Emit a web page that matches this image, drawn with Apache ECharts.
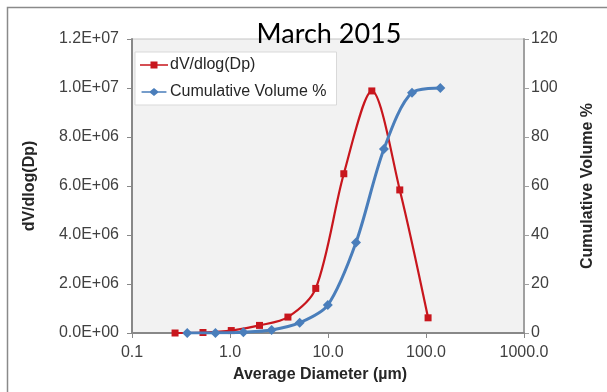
<!DOCTYPE html>
<html>
<head>
<meta charset="utf-8">
<script src="https://cdn.jsdelivr.net/npm/echarts@6/dist/echarts.min.js"></script>
<style>
  html, body { margin: 0; padding: 0; background: #ffffff; }
  #chart { width: 607px; height: 392px; }
</style>
</head>
<body>
<div id="chart"></div>
<script>
// Particle size distribution, March 2015
const diamDV = [0.275, 0.53, 1.03, 2.0, 3.9, 7.5, 14.5, 28, 54, 105];
const valuesDV = [0, 0.02e6, 0.1e6, 0.31e6, 0.65e6, 1.82e6, 6.5e6, 9.88e6, 5.84e6, 0.62e6];

const diamCum = [0.366, 0.71, 1.37, 2.66, 5.14, 9.96, 19.3, 37.2, 72, 140];
const valuesCum = [0, 0.05, 0.3, 1.2, 4.2, 11.4, 36.9, 75.1, 98.1, 100];

const xRange = [0.1, 1000];
const leftRange = [0, 1.2e7, 2e6];
const rightRange = [0, 120, 20];

const seriesNames = ['dV/dlog(Dp)', 'Cumulative Volume %'];
const titleText = 'March 2015';

const RED = '#c8161d';
const BLUE = '#4a7ebb';
const FONT = '"Liberation Sans", Arial, sans-serif';

function sci(v) {
  if (v === 0) return '0.0E+00';
  const e = Math.floor(Math.log10(v) + 1e-9);
  const m = v / Math.pow(10, e);
  return m.toFixed(1) + 'E+' + String(e).padStart(2, '0');
}

const pairsDV = diamDV.map((d, i) => [d, valuesDV[i]]);
const pairsCum = diamCum.map((d, i) => [d, valuesCum[i]]);

// legend icons: short line with the series marker in the middle
const iconSquare = 'path://M0,3.2 H10.5 V0.5 H17.5 V3.2 H28 V4.8 H17.5 V7.5 H10.5 V4.8 H0 Z';
const iconDiamond = 'path://M0,3.1 H9.5 L14,-0.5 L18.5,3.1 H28 V4.9 H18.5 L14,8.5 L9.5,4.9 H0 Z';

const chart = echarts.init(document.getElementById('chart'), null, { renderer: 'canvas' });

chart.setOption({
  animation: false,
  backgroundColor: '#ffffff',
  title: {
    text: titleText,
    left: 324,
    top: 16,
    textAlign: 'center',
    textStyle: { fontFamily: 'Lato, "Open Sans", sans-serif', fontSize: 27, fontWeight: 'normal', color: '#000000' }
  },
  graphic: [{
    type: 'rect',
    shape: { x: 7.5, y: 7.5, width: 700, height: 500 },
    style: { fill: 'none', stroke: '#8a8a8a', lineWidth: 1.5 },
    z: -10
  }],
  legend: {
    orient: 'vertical',
    left: 135,
    top: 52,
    width: 198,
    padding: [5, 10, 5, 5],
    itemGap: 11,
    itemWidth: 28,
    itemHeight: 8,
    backgroundColor: '#ffffff',
    borderColor: '#d9d9d9',
    borderWidth: 1,
    textStyle: { fontFamily: FONT, fontSize: 16, color: '#262626', padding: [0, 0, 0, -3] },
    data: [
      { name: seriesNames[0], icon: iconSquare, itemStyle: { color: RED } },
      { name: seriesNames[1], icon: iconDiamond, itemStyle: { color: BLUE } }
    ]
  },
  grid: {
    left: 132, right: 83, top: 39, bottom: 59,
    show: true,
    backgroundColor: '#f2f2f2',
    borderColor: '#c4c4c4',
    borderWidth: 1
  },
  xAxis: {
    type: 'log',
    logBase: 10,
    min: xRange[0],
    max: xRange[1],
    name: 'Average Diameter (µm)',
    nameLocation: 'middle',
    nameGap: 34,
    nameTextStyle: { fontFamily: FONT, fontSize: 16, fontWeight: 'bold', color: '#262626', padding: [0, 16, 0, 0] },
    axisLine: { lineStyle: { color: '#888888', width: 2 } },
    axisTick: { show: true, length: 5, lineStyle: { color: '#888888', width: 1 } },
    minorTick: { show: false },
    splitLine: { show: false },
    axisLabel: {
      margin: 12,
      fontFamily: FONT, fontSize: 16, color: '#404040',
      formatter: v => Number(v).toFixed(1)
    }
  },
  yAxis: [{
    type: 'value',
    min: leftRange[0],
    max: leftRange[1],
    interval: leftRange[2],
    name: 'dV/dlog(Dp)',
    nameLocation: 'middle',
    nameGap: 94,
    nameTextStyle: { fontFamily: FONT, fontSize: 16, fontWeight: 'bold', color: '#262626' },
    axisLine: { show: true, lineStyle: { color: '#888888', width: 2 } },
    axisTick: { show: true, length: 5, lineStyle: { color: '#888888' } },
    splitLine: { show: false },
    axisLabel: {
      margin: 13,
      fontFamily: FONT, fontSize: 16, color: '#404040',
      formatter: sci
    }
  }, {
    type: 'value',
    position: 'right',
    min: rightRange[0],
    max: rightRange[1],
    interval: rightRange[2],
    name: 'Cumulative Volume %',
    nameLocation: 'middle',
    nameGap: 56,
    nameRotate: 90,
    nameTextStyle: { fontFamily: FONT, fontSize: 16, fontWeight: 'bold', color: '#262626' },
    axisLine: { show: true, lineStyle: { color: '#a0a0a0', width: 2 } },
    axisTick: { show: true, length: 5, lineStyle: { color: '#a0a0a0' } },
    splitLine: { show: false },
    axisLabel: {
      margin: 7,
      fontFamily: FONT, fontSize: 16, color: '#404040'
    }
  }],
  series: [{
    name: seriesNames[0],
    type: 'line',
    yAxisIndex: 0,
    data: pairsDV,
    smooth: 0.3,
    symbol: 'rect',
    symbolSize: 7,
    lineStyle: { color: RED, width: 2.2 },
    itemStyle: { color: RED },
    z: 3
  }, {
    name: seriesNames[1],
    type: 'line',
    yAxisIndex: 1,
    data: pairsCum,
    smooth: 0.3,
    symbol: 'diamond',
    symbolSize: 10,
    lineStyle: { color: BLUE, width: 3 },
    itemStyle: { color: BLUE },
    z: 4
  }]
});
</script>
</body>
</html>
